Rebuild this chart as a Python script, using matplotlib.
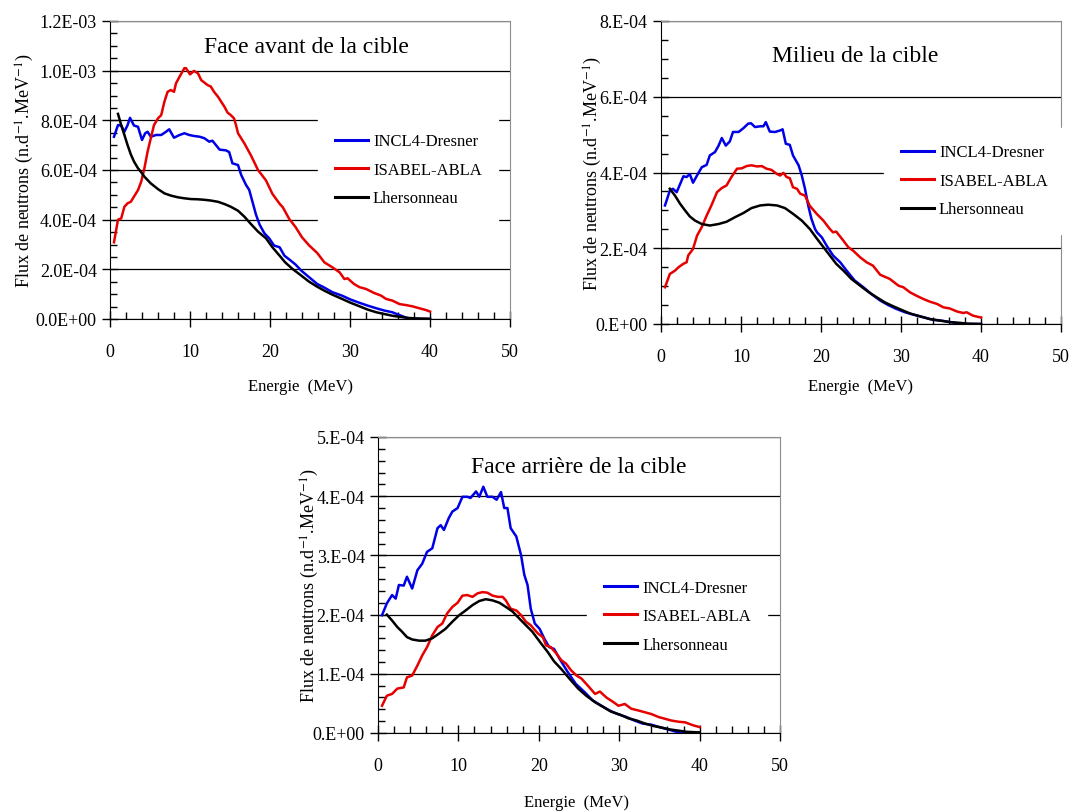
import matplotlib
matplotlib.use("Agg")
import matplotlib.pyplot as plt
from matplotlib.ticker import MultipleLocator, FixedLocator

plt.rcParams['font.family'] = ['Liberation Serif', 'DejaVu Serif']
plt.rcParams['mathtext.fontset'] = 'stix'

# valeurs en unités de 1e-4 n.d-1.MeV-1
SCALE = 1e-4

# --- Face avant de la cible ---
front_incl_e = [0.5, 1.0, 1.4, 1.8, 2.2, 2.5, 3.0, 3.5, 4.0, 4.4, 4.7, 5.1, 5.75, 6.4, 7.0, 7.4, 8.0, 8.7, 9.3, 9.9,
                10.5, 11.2, 11.8, 12.4, 12.8, 13.25, 13.7, 14.5, 14.9, 15.3, 16.0, 16.4, 17.0, 17.4, 17.8, 18.25, 18.7,
                19.3, 19.9, 20.5, 21.2, 21.8, 22.6, 23.2, 23.9, 24.9, 25.9, 26.7, 27.8, 29.0, 30.1, 31.2, 32.2, 33.3,
                34.3, 35.3, 36.4, 37.2, 38.0, 39.0, 40.0]
front_incl = [7.34, 7.81, 7.79, 7.54, 7.81, 8.1, 7.79, 7.74, 7.21, 7.48, 7.54, 7.34, 7.41, 7.41, 7.54, 7.64, 7.3, 7.41,
              7.48, 7.41, 7.37, 7.34, 7.28, 7.14, 7.18, 7.0, 6.82, 6.79, 6.72, 6.27, 6.2, 5.8, 5.4, 5.2, 4.73, 4.2, 3.8,
              3.45, 3.25, 2.96, 2.89, 2.55, 2.35, 2.19, 1.95, 1.68, 1.41, 1.28, 1.08, 0.94, 0.78, 0.65, 0.54, 0.43,
              0.34, 0.27, 0.13, 0.03, 0.01, 0.0, 0.0]
front_isabel_e = [0.5, 1.0, 1.4, 1.8, 2.2, 2.6, 3.0, 3.5, 3.9, 4.3, 4.7, 5.1, 5.5, 6.0, 6.4, 6.8, 7.2, 7.6, 8.0, 8.25,
                  8.7, 9.3, 9.5, 10.0, 10.5, 11.0, 11.4, 12.2, 12.6, 13.0, 13.5, 13.9, 14.3, 14.7, 15.1, 15.5, 15.75,
                  16.0, 16.8, 17.6, 18.5, 19.5, 20.3, 21.2, 21.6, 22.4, 23.2, 24.0, 24.9, 25.9, 26.8, 27.8, 28.7, 29.3,
                  29.7, 30.5, 31.2, 32.0, 33.0, 33.9, 34.5, 35.3, 36.2, 37.0, 37.8, 38.7, 39.5, 40.0]
front_isabel = [3.09, 4.0, 4.05, 4.52, 4.66, 4.72, 4.93, 5.19, 5.53, 6.07, 6.74, 7.28, 7.81, 8.08, 8.21, 8.75, 9.15,
                9.22, 9.15, 9.49, 9.76, 10.1, 10.1, 9.85, 9.99, 9.89, 9.62, 9.42, 9.36, 9.15, 8.95, 8.75, 8.55, 8.31,
                8.21, 8.08, 7.81, 7.48, 7.07, 6.6, 6.0, 5.58, 5.04, 4.64, 4.5, 4.03, 3.7, 3.29, 2.96, 2.66, 2.28, 2.08,
                1.88, 1.61, 1.64, 1.41, 1.28, 1.21, 1.05, 0.94, 0.81, 0.74, 0.60, 0.56, 0.51, 0.43, 0.36, 0.30]
front_lher_e = [1.0, 1.4, 1.8, 2.2, 2.6, 3.0, 3.5, 3.9, 4.3, 5.1, 6.0, 6.8, 7.6, 8.5, 9.3, 10.1, 11.0, 11.8, 12.6, 13.5,
                14.3, 15.1, 16.0, 16.8, 17.6, 18.5, 19.5, 20.3, 21.2, 21.9, 22.8, 23.9, 24.9, 25.9, 26.8, 27.8, 29.0,
                30.1, 31.2, 32.2, 33.3, 34.3, 35.3, 36.4, 37.4, 38.5, 40.0]
front_lher = [8.26, 7.81, 7.41, 7.0, 6.63, 6.34, 6.07, 5.91, 5.73, 5.46, 5.23, 5.06, 4.97, 4.9, 4.86, 4.83, 4.82, 4.8,
              4.77, 4.72, 4.63, 4.52, 4.36, 4.12, 3.83, 3.52, 3.25, 2.89, 2.55, 2.28, 2.02, 1.75, 1.5, 1.3, 1.14, 0.98,
              0.81, 0.65, 0.51, 0.38, 0.27, 0.2, 0.13, 0.08, 0.04, 0.02, 0.01]

# --- Milieu de la cible ---
mid_incl_e = [0.5, 1.1, 1.5, 1.96, 2.4, 2.8, 3.2, 3.6, 4.0, 4.5, 5.1, 5.7, 6.1, 6.75, 7.2, 7.6, 8.1, 8.6, 9.0, 9.7,
              10.3, 10.9, 11.25, 11.75, 12.4, 12.8, 13.1, 13.6, 14.25, 14.9, 15.2, 15.6, 16.1, 16.5, 17.2, 17.6, 18.0,
              18.4, 18.8, 19.25, 19.5, 20.1, 20.7, 21.5, 22.4, 23.2, 24.2, 25.3, 26.3, 27.4, 28.4, 29.4, 30.5, 31.5,
              32.8, 34.0, 35.3, 36.5, 37.4, 38.5, 40.0]
mid_incl = [3.13, 3.52, 3.57, 3.48, 3.7, 3.9, 3.88, 3.96, 3.73, 3.92, 4.14, 4.2, 4.45, 4.54, 4.71, 4.91, 4.71, 4.82,
            5.07, 5.07, 5.17, 5.29, 5.3, 5.2, 5.22, 5.22, 5.33, 5.08, 5.07, 5.11, 5.14, 4.76, 4.73, 4.45, 4.19, 3.92,
            3.57, 3.13, 2.78, 2.51, 2.42, 2.29, 2.07, 1.81, 1.63, 1.41, 1.15, 0.97, 0.79, 0.62, 0.5, 0.4, 0.31, 0.25,
            0.18, 0.11, 0.08, 0.04, 0.01, 0.0, 0.0]
mid_isabel_e = [0.5, 1.1, 1.75, 2.2, 2.8, 3.2, 3.4, 4.0, 4.5, 5.1, 5.7, 6.3, 7.0, 7.6, 8.2, 8.8, 9.5, 10.1, 10.7, 11.3,
                12.0, 12.6, 13.2, 13.8, 14.5, 14.9, 15.3, 15.7, 16.1, 16.5, 17.0, 17.4, 18.0, 18.6, 19.5, 20.3, 21.1,
                21.5, 21.9, 22.8, 23.4, 24.0, 24.9, 25.7, 26.5, 27.4, 28.6, 29.7, 30.3, 31.1, 31.9, 32.8, 33.6, 34.5,
                35.3, 36.1, 37.0, 37.8, 38.2, 39.0, 40.0]
mid_isabel = [0.97, 1.32, 1.41, 1.5, 1.59, 1.63, 1.81, 1.98, 2.33, 2.56, 2.86, 3.13, 3.48, 3.59, 3.66, 3.88, 4.1, 4.11,
              4.17, 4.19, 4.16, 4.17, 4.1, 4.07, 3.96, 3.92, 3.99, 3.88, 3.85, 3.61, 3.57, 3.44, 3.39, 3.12, 2.9, 2.73,
              2.51, 2.42, 2.44, 2.2, 2.03, 1.94, 1.76, 1.63, 1.54, 1.3, 1.19, 1.01, 0.97, 0.84, 0.75, 0.66, 0.59, 0.53,
              0.44, 0.41, 0.33, 0.29, 0.31, 0.22, 0.17]
mid_lher_e = [1.1, 1.75, 2.4, 3.0, 3.6, 4.25, 5.1, 6.1, 7.2, 8.2, 9.25, 10.3, 11.3, 12.4, 13.4, 14.5, 15.5, 16.5, 17.6,
              18.6, 19.5, 20.3, 21.1, 21.9, 22.8, 23.8, 24.9, 25.9, 27.0, 28.0, 29.0, 30.1, 31.1, 32.4, 33.6, 34.9,
              36.1, 37.4, 38.2, 40.0]
mid_lher = [3.57, 3.39, 3.17, 3.0, 2.84, 2.73, 2.64, 2.6, 2.64, 2.7, 2.82, 2.93, 3.06, 3.13, 3.15, 3.13, 3.06, 2.91,
            2.73, 2.51, 2.25, 2.03, 1.81, 1.59, 1.41, 1.19, 1.01, 0.85, 0.7, 0.57, 0.47, 0.37, 0.28, 0.2, 0.13, 0.09,
            0.05, 0.03, 0.01, 0.0]

# --- Face arrière de la cible ---
back_incl_e = [0.5, 1.1, 1.75, 2.2, 2.6, 3.2, 3.6, 4.25, 4.9, 5.5, 6.1, 6.75, 7.4, 7.8, 8.2, 8.8, 9.25, 9.9, 10.5, 11.1,
               11.5, 12.2, 12.6, 13.1, 13.6, 14.25, 14.75, 15.3, 15.7, 16.1, 16.5, 17.2, 17.8, 18.2, 18.6, 19.0, 19.5,
               20.1, 20.7, 21.3, 21.9, 22.6, 23.6, 24.6, 25.7, 26.7, 27.8, 28.8, 29.8, 30.9, 31.9, 32.9, 34.0, 35.0,
               36.1, 37.1, 38.0, 40.0]
back_incl = [1.99, 2.19, 2.33, 2.27, 2.5, 2.49, 2.64, 2.44, 2.75, 2.86, 3.06, 3.12, 3.46, 3.51, 3.43, 3.63, 3.74, 3.8,
             3.99, 3.99, 3.97, 4.08, 3.99, 4.16, 3.99, 3.99, 3.94, 4.07, 3.8, 3.8, 3.46, 3.32, 3.0, 2.67, 2.5, 2.1,
             1.85, 1.76, 1.59, 1.45, 1.42, 1.25, 1.03, 0.83, 0.69, 0.55, 0.46, 0.38, 0.32, 0.27, 0.21, 0.16, 0.14,
             0.1, 0.06, 0.02, 0.0, 0.0]
back_isabel_e = [0.5, 1.1, 1.75, 2.4, 3.2, 3.6, 4.25, 4.9, 5.5, 6.1, 6.75, 7.4, 8.0, 8.6, 9.25, 9.9, 10.5, 11.1, 11.75,
                 12.4, 13.0, 13.6, 14.25, 14.9, 15.5, 15.9, 16.5, 17.2, 17.8, 18.4, 19.0, 19.5, 19.9, 20.5, 20.9, 21.5,
                 22.2, 22.8, 23.4, 24.0, 24.7, 25.3, 26.1, 27.0, 27.6, 28.4, 29.3, 29.9, 30.7, 31.5, 32.4, 33.2, 34.0,
                 34.9, 35.7, 36.5, 37.4, 38.2, 39.2, 40.0]
back_isabel = [0.46, 0.63, 0.66, 0.75, 0.77, 0.94, 0.97, 1.14, 1.31, 1.45, 1.65, 1.79, 1.85, 2.02, 2.13, 2.2, 2.32,
               2.33, 2.3, 2.36, 2.38, 2.37, 2.32, 2.3, 2.3, 2.24, 2.1, 2.07, 1.99, 1.88, 1.82, 1.74, 1.68, 1.62, 1.48,
               1.45, 1.34, 1.23, 1.17, 1.06, 0.97, 0.92, 0.8, 0.66, 0.7, 0.6, 0.52, 0.46, 0.49, 0.41, 0.38, 0.35,
               0.32, 0.27, 0.24, 0.21, 0.19, 0.18, 0.13, 0.10]
back_lher_e = [1.1, 1.75, 2.4, 3.0, 3.6, 4.25, 5.1, 5.9, 6.75, 7.6, 8.4, 9.25, 10.1, 10.9, 11.75, 12.6, 13.4, 14.25,
               15.1, 15.9, 16.75, 17.6, 18.4, 19.2, 20.3, 21.1, 21.9, 22.8, 23.8, 24.9, 25.9, 27.0, 28.0, 29.0, 30.1,
               31.1, 32.2, 33.2, 34.2, 35.3, 36.3, 37.4, 38.4, 40.0]
back_lher = [2.0, 1.9, 1.79, 1.71, 1.62, 1.58, 1.56, 1.56, 1.6, 1.68, 1.76, 1.88, 1.99, 2.07, 2.16, 2.23, 2.26, 2.24,
             2.2, 2.13, 2.05, 1.93, 1.82, 1.71, 1.51, 1.37, 1.21, 1.08, 0.92, 0.75, 0.63, 0.52, 0.44, 0.36, 0.31, 0.25,
             0.21, 0.16, 0.12, 0.09, 0.06, 0.04, 0.02, 0.01]

series_names = ["INCL4-Dresner", "ISABEL-ABLA", "Lhersonneau"]
series_colors = ["#0000e6", "#e60000", "#000000"]

titles = ["Face avant de la cible", "Milieu de la cible", "Face arrière de la cible"]
front_yticks = [0, 2, 4, 6, 8, 10, 12]
front_yticklabels = ["0.0E+00", "2.0E-04", "4.0E-04", "6.0E-04", "8.0E-04", "1.0E-03", "1.2E-03"]
mid_yticks = [0, 2, 4, 6, 8]
mid_yticklabels = ["0.E+00", "2.E-04", "4.E-04", "6.E-04", "8.E-04"]
back_yticks = [0, 1, 2, 3, 4, 5]
back_yticklabels = ["0.E+00", "1.E-04", "2.E-04", "3.E-04", "4.E-04", "5.E-04"]
xticks = [0, 10, 20, 30, 40, 50]

ylabel = "Flux de neutrons (n.d$^{-1}$.MeV$^{-1}$)"
xlabel = "Energie  (MeV)"

fig = plt.figure(figsize=(10.74, 8.12), dpi=100)


def draw_panel(rect, curves, yticks, yticklabels, yminor, title, title_pos,
               ylab_x, xlab_pos, legend_anchor):
    ax = fig.add_axes(rect)
    for (e, v), name, col in zip(curves, series_names, series_colors):
        ax.plot(e, [val * SCALE for val in v], color=col, lw=1.8, label=name)
    ax.set_xlim(0, 50)
    ax.set_ylim(0, yticks[-1] * SCALE)
    ax.set_xticks(xticks)
    ax.xaxis.set_minor_locator(MultipleLocator(2))
    ax.yaxis.set_major_locator(FixedLocator([t * SCALE for t in yticks]))
    ax.set_yticklabels(yticklabels)
    ax.yaxis.set_minor_locator(MultipleLocator(yminor * SCALE))
    ax.tick_params(axis='both', which='major', direction='inout', length=11, width=1,
                   labelsize=13, color='black')
    ax.tick_params(axis='x', which='major', pad=12)
    ax.tick_params(axis='y', which='major', pad=4)
    ax.tick_params(axis='both', which='minor', direction='in', length=5, width=1)
    ax.set_axisbelow(True)
    ax.yaxis.grid(True, color='black', lw=0.9)
    for s in ['top', 'right']:
        ax.spines[s].set_color('#8c8c8c')
    for s in ['left', 'bottom']:
        ax.spines[s].set_color('black')
    ax.set_ylabel(ylabel, fontsize=13)
    ax.yaxis.set_label_coords(ylab_x, 0.5)
    ax.set_xlabel(xlabel, fontsize=12)
    ax.xaxis.set_label_coords(*xlab_pos)
    ax.text(title_pos[0], title_pos[1], title, transform=ax.transAxes,
            ha='center', va='center', fontsize=17)
    leg = ax.legend(loc='center left', bbox_to_anchor=legend_anchor, fontsize=12,
                    frameon=True, fancybox=False, framealpha=1, edgecolor='white',
                    borderpad=1.0, labelspacing=0.75, handlelength=2.0,
                    handletextpad=0.3, borderaxespad=0)
    for line in leg.get_lines():
        line.set_linewidth(2.2)
    return ax


draw_panel([110 / 1074, 1 - 320 / 812, 400 / 1074, 298 / 812],
           [(front_incl_e, front_incl), (front_isabel_e, front_isabel), (front_lher_e, front_lher)],
           front_yticks, front_yticklabels, 0.5, titles[0], (0.49, 0.913),
           -0.185, (0.475, -0.198), (0.52, 0.5))

draw_panel([661 / 1074, 1 - 325 / 812, 400 / 1074, 303 / 812],
           [(mid_incl_e, mid_incl), (mid_isabel_e, mid_isabel), (mid_lher_e, mid_lher)],
           mid_yticks, mid_yticklabels, 0.5, titles[1], (0.485, 0.885),
           -0.142, (0.5, -0.178), (0.5575, 0.472))

draw_panel([378 / 1074, 1 - 734 / 812, 402 / 1074, 296 / 812],
           [(back_incl_e, back_incl), (back_isabel_e, back_isabel), (back_lher_e, back_lher)],
           back_yticks, back_yticklabels, 0.2, titles[2], (0.5, 0.9),
           -0.142, (0.495, -0.206), (0.52, 0.395))

fig.savefig("out.png", dpi=100)
